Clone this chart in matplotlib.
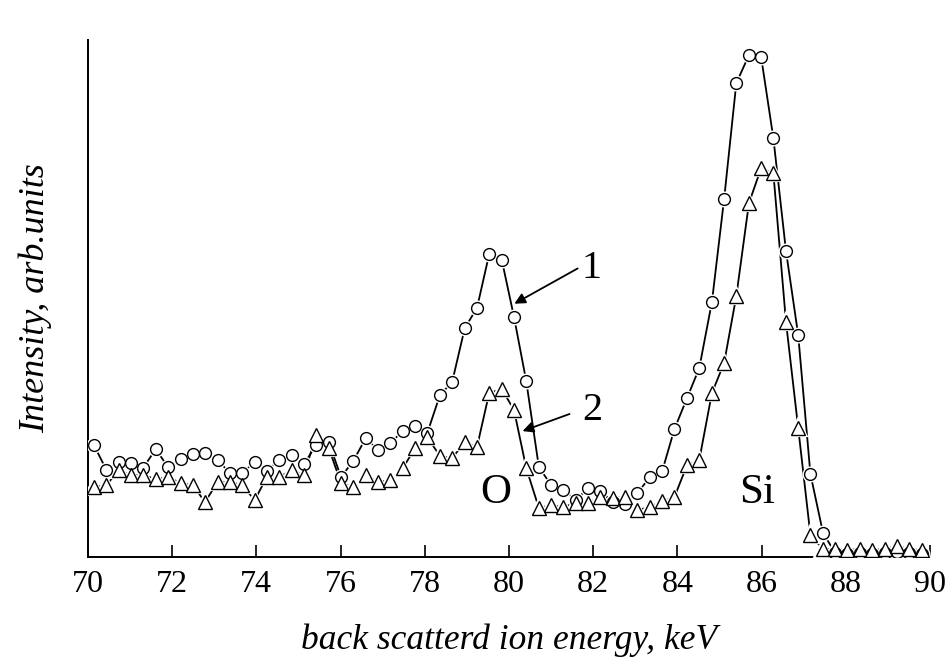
import numpy as np
import matplotlib
matplotlib.use('Agg')
import matplotlib.pyplot as plt

# ---- data (energy in keV, intensity in arb. units) ----
energy = [70.14, 70.44, 70.73, 71.02, 71.31, 71.61, 71.90, 72.20, 72.49, 72.78,
          73.08, 73.37, 73.66, 73.96, 74.25, 74.54, 74.84, 75.13, 75.42, 75.72,
          76.01, 76.30, 76.60, 76.89, 77.18, 77.48, 77.77, 78.06, 78.36, 78.65,
          78.95, 79.24, 79.53, 79.83, 80.12, 80.41, 80.71, 81.00, 81.29, 81.59,
          81.88, 82.17, 82.47, 82.76, 83.05, 83.35, 83.64, 83.93, 84.23, 84.52,
          84.82, 85.11, 85.40, 85.70, 85.99, 86.28, 86.58, 86.87, 87.16, 87.46,
          87.75, 88.04, 88.34, 88.63, 88.92, 89.22, 89.51, 89.80]

curve1 = [1.12, 0.87, 0.95, 0.94, 0.89, 1.08, 0.90, 0.98, 1.03, 1.04,
          0.97, 0.84, 0.84, 0.95, 0.86, 0.97, 1.02, 0.93, 1.12, 1.15,
          0.80, 0.96, 1.19, 1.07, 1.14, 1.26, 1.31, 1.24, 1.62, 1.75,
          2.29, 2.49, 3.03, 2.97, 2.40, 1.76, 0.90, 0.72, 0.67, 0.57,
          0.69, 0.66, 0.55, 0.53, 0.64, 0.80, 0.86, 1.28, 1.59, 1.89,
          2.55, 3.58, 4.74, 5.02, 5.00, 4.19, 3.06, 2.22, 0.83, 0.24,
          0.04, 0.03, 0.04, 0.03, 0.04, 0.05, 0.04, 0.03]

curve2 = [0.70, 0.72, 0.87, 0.82, 0.82, 0.78, 0.80, 0.74, 0.72, 0.55,
          0.75, 0.75, 0.72, 0.57, 0.80, 0.80, 0.87, 0.82, 1.22, 1.09,
          0.74, 0.70, 0.82, 0.75, 0.77, 0.89, 1.09, 1.20, 1.01, 0.99,
          1.15, 1.10, 1.64, 1.68, 1.47, 0.89, 0.49, 0.52, 0.50, 0.54,
          0.54, 0.60, 0.59, 0.60, 0.47, 0.50, 0.56, 0.60, 0.92, 0.97,
          1.64, 1.94, 2.61, 3.54, 3.89, 3.84, 2.35, 1.29, 0.22, 0.08,
          0.08, 0.07, 0.08, 0.07, 0.08, 0.11, 0.08, 0.07]

xticks = [70, 72, 74, 76, 78, 80, 82, 84, 86, 88, 90]

SERIF = ['Liberation Serif', 'DejaVu Serif']

fig = plt.figure(figsize=(9.51, 6.61), dpi=100)
ax = fig.add_axes([0.0925, 0.1573, 0.8854, 0.782])


def draw(y, marker, ms):
    # line, then a white halo round each marker (gap look), then hollow marker
    ax.plot(energy, y, '-', color='k', lw=1.3, zorder=2)
    ax.plot(energy, y, marker, ls='none', ms=ms, mfc='white', mec='white',
            mew=3.0, zorder=3)
    ax.plot(energy, y, marker, ls='none', ms=ms, mfc='white', mec='k',
            mew=1.0, zorder=4)


draw(curve1, 'o', 8.5)
draw(curve2, '^', 10.5)

ax.set_xlim(70, 90)
ax.set_ylim(0, 5.17)
ax.set_xticks(xticks)
ax.set_xticklabels([str(t) for t in xticks], family=SERIF, fontsize=23)
ax.set_yticks([])
ax.tick_params(axis='x', direction='in', length=9, width=1.2, pad=9)
for s in ['top', 'right']:
    ax.spines[s].set_visible(False)
for s in ['left', 'bottom']:
    ax.spines[s].set_linewidth(1.4)

ax.set_xlabel("back scatterd ion energy, keV", family=SERIF, style='italic',
              fontsize=25.5, labelpad=18)
ax.set_ylabel("Intensity, arb.units", family=SERIF, style='italic',
              fontsize=26, labelpad=26)

# peak labels
ax.text(79.68, 0.64, "O", family=SERIF, fontsize=31, ha='center', va='center')
ax.text(85.89, 0.64, "Si", family=SERIF, fontsize=31, ha='center', va='center')

# curve numbers with arrows
arrow = dict(arrowstyle='-|>', color='k', lw=1.3, mutation_scale=16)
ax.annotate("", xy=(80.07, 2.52), xytext=(81.69, 2.90), arrowprops=arrow)
ax.annotate("", xy=(80.26, 1.25), xytext=(81.50, 1.44), arrowprops=arrow)
ax.text(81.97, 2.89, "1", family=SERIF, fontsize=29, ha='center', va='center')
ax.text(81.97, 1.47, "2", family=SERIF, fontsize=29, ha='center', va='center')

plt.savefig("out.png", dpi=100)
plt.close()
